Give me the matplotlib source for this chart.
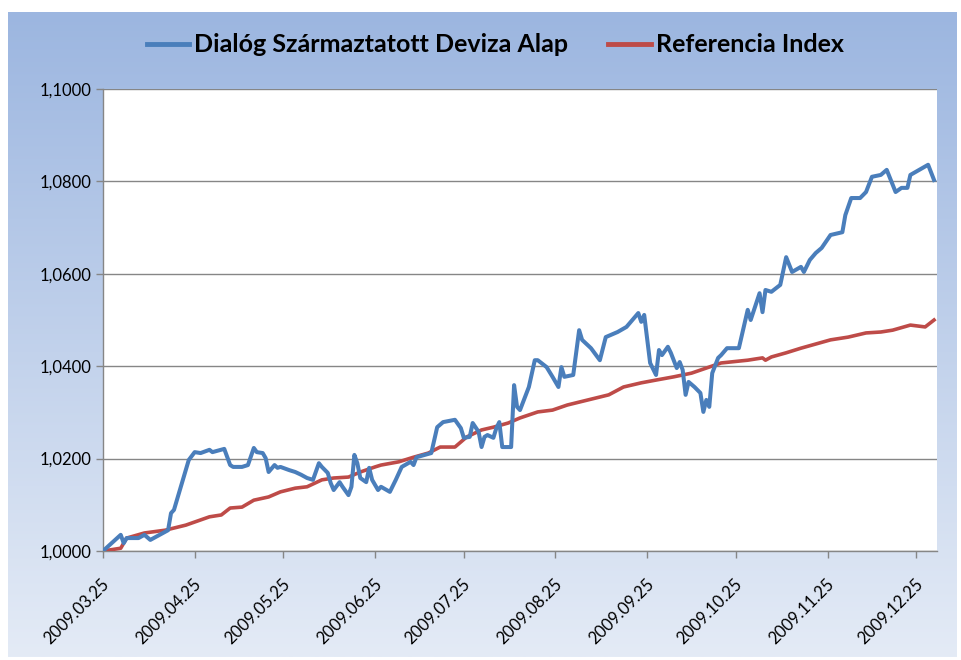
import matplotlib
matplotlib.use("Agg")
import matplotlib.pyplot as plt
import matplotlib.transforms as mtransforms
from matplotlib.ticker import FuncFormatter, MultipleLocator
import numpy as np
import pandas as pd

# ---------------- data ----------------
fund_dates = [
    "2009-03-25", "2009-03-31", "2009-04-01", "2009-04-02", "2009-04-06", "2009-04-08",
    "2009-04-10", "2009-04-16", "2009-04-17", "2009-04-18", "2009-04-23", "2009-04-25",
    "2009-04-27", "2009-04-30", "2009-05-01", "2009-05-05", "2009-05-07", "2009-05-08",
    "2009-05-11", "2009-05-13", "2009-05-15", "2009-05-16", "2009-05-18", "2009-05-19",
    "2009-05-20", "2009-05-22", "2009-05-23", "2009-05-24", "2009-05-27", "2009-05-29",
    "2009-05-31", "2009-06-02", "2009-06-04", "2009-06-06", "2009-06-07", "2009-06-09",
    "2009-06-10", "2009-06-11", "2009-06-13", "2009-06-14", "2009-06-16", "2009-06-17",
    "2009-06-18", "2009-06-19", "2009-06-20", "2009-06-22", "2009-06-23", "2009-06-24",
    "2009-06-26", "2009-06-27", "2009-06-30", "2009-07-02", "2009-07-04", "2009-07-07",
    "2009-07-08", "2009-07-09", "2009-07-14", "2009-07-16", "2009-07-18", "2009-07-22",
    "2009-07-24", "2009-07-25", "2009-07-27", "2009-07-28", "2009-07-30", "2009-07-31",
    "2009-08-01", "2009-08-02", "2009-08-04", "2009-08-05", "2009-08-06", "2009-08-07",
    "2009-08-10", "2009-08-11", "2009-08-12", "2009-08-13", "2009-08-16", "2009-08-18",
    "2009-08-19", "2009-08-22", "2009-08-24", "2009-08-26", "2009-08-27", "2009-08-28",
    "2009-08-31", "2009-09-02", "2009-09-03", "2009-09-06", "2009-09-09", "2009-09-11",
    "2009-09-15", "2009-09-18", "2009-09-22", "2009-09-23", "2009-09-24", "2009-09-26",
    "2009-09-28", "2009-09-29", "2009-09-30", "2009-10-02", "2009-10-03", "2009-10-05",
    "2009-10-06", "2009-10-07", "2009-10-08", "2009-10-09", "2009-10-11", "2009-10-13",
    "2009-10-14", "2009-10-15", "2009-10-16", "2009-10-17", "2009-10-19", "2009-10-20",
    "2009-10-22", "2009-10-26", "2009-10-29", "2009-10-30", "2009-11-02", "2009-11-03",
    "2009-11-04", "2009-11-06", "2009-11-09", "2009-11-11", "2009-11-13", "2009-11-16",
    "2009-11-17", "2009-11-19", "2009-11-21", "2009-11-23", "2009-11-26", "2009-11-30",
    "2009-12-01", "2009-12-03", "2009-12-06", "2009-12-08", "2009-12-10", "2009-12-13",
    "2009-12-15", "2009-12-18", "2009-12-20", "2009-12-22", "2009-12-23", "2009-12-26",
    "2009-12-29", "2009-12-31",
]
fund_values = [
    1.0000, 1.0035, 1.0017, 1.0028, 1.0028, 1.0035,
    1.0024, 1.0045, 1.0082, 1.0089, 1.0197, 1.0214,
    1.0212, 1.0219, 1.0214, 1.0221, 1.0186, 1.0182,
    1.0182, 1.0186, 1.0223, 1.0214, 1.0212, 1.0201,
    1.0171, 1.0186, 1.0180, 1.0182, 1.0175, 1.0171,
    1.0165, 1.0158, 1.0154, 1.0190, 1.0182, 1.0169,
    1.0147, 1.0132, 1.0149, 1.0139, 1.0121, 1.0139,
    1.0208, 1.0190, 1.0158, 1.0149, 1.0180, 1.0154,
    1.0132, 1.0139, 1.0128, 1.0154, 1.0182, 1.0193,
    1.0186, 1.0203, 1.0212, 1.0268, 1.0279, 1.0284,
    1.0266, 1.0245, 1.0247, 1.0277, 1.0258, 1.0225,
    1.0247, 1.0251, 1.0245, 1.0266, 1.0279, 1.0225,
    1.0225, 1.0359, 1.0312, 1.0305, 1.0355, 1.0413,
    1.0413, 1.0398, 1.0377, 1.0355, 1.0398, 1.0377,
    1.0381, 1.0478, 1.0457, 1.0439, 1.0413, 1.0463,
    1.0474, 1.0485, 1.0515, 1.0496, 1.0511, 1.0407,
    1.0381, 1.0435, 1.0424, 1.0442, 1.0429, 1.0396,
    1.0409, 1.0392, 1.0338, 1.0366, 1.0355, 1.0342,
    1.0301, 1.0327, 1.0312, 1.0385, 1.0418, 1.0424,
    1.0439, 1.0439, 1.0522, 1.0500, 1.0558, 1.0517,
    1.0565, 1.0561, 1.0576, 1.0636, 1.0604, 1.0615,
    1.0604, 1.0630, 1.0645, 1.0656, 1.0684, 1.0690,
    1.0727, 1.0764, 1.0764, 1.0777, 1.0810, 1.0814,
    1.0825, 1.0777, 1.0786, 1.0786, 1.0814, 1.0825,
    1.0836, 1.0803,
]

ref_dates = [
    "2009-03-25", "2009-03-31", "2009-04-02", "2009-04-08", "2009-04-15", "2009-04-22",
    "2009-04-30", "2009-05-04", "2009-05-07", "2009-05-11", "2009-05-15", "2009-05-20",
    "2009-05-24", "2009-05-29", "2009-06-02", "2009-06-07", "2009-06-11", "2009-06-16",
    "2009-06-20", "2009-06-25", "2009-06-27", "2009-07-03", "2009-07-08", "2009-07-13",
    "2009-07-17", "2009-07-22", "2009-07-26", "2009-07-31", "2009-08-04", "2009-08-09",
    "2009-08-13", "2009-08-19", "2009-08-24", "2009-08-29", "2009-09-05", "2009-09-12",
    "2009-09-17", "2009-09-23", "2009-09-28", "2009-10-04", "2009-10-10", "2009-10-15",
    "2009-10-20", "2009-10-29", "2009-11-03", "2009-11-04", "2009-11-06", "2009-11-11",
    "2009-11-16", "2009-11-26", "2009-12-02", "2009-12-08", "2009-12-13", "2009-12-17",
    "2009-12-23", "2009-12-28", "2009-12-31",
]
ref_values = [
    1.0000, 1.0006, 1.0028, 1.0039, 1.0045, 1.0056,
    1.0074, 1.0078, 1.0093, 1.0095, 1.0110, 1.0117,
    1.0128, 1.0136, 1.0139, 1.0154, 1.0158, 1.0160,
    1.0171, 1.0182, 1.0186, 1.0193, 1.0203, 1.0212,
    1.0225, 1.0225, 1.0247, 1.0262, 1.0268, 1.0277,
    1.0288, 1.0301, 1.0305, 1.0316, 1.0327, 1.0338,
    1.0355, 1.0364, 1.0370, 1.0377, 1.0385, 1.0396,
    1.0407, 1.0413, 1.0418, 1.0413, 1.0420, 1.0429,
    1.0439, 1.0457, 1.0463, 1.0472, 1.0474, 1.0478,
    1.0489, 1.0485, 1.0500,
]

tick_dates = [
    "2009-03-25", "2009-04-25", "2009-05-25", "2009-06-25", "2009-07-25",
    "2009-08-25", "2009-09-25", "2009-10-25", "2009-11-25", "2009-12-25",
]
tick_labels = [
    "2009.03.25", "2009.04.25", "2009.05.25", "2009.06.25", "2009.07.25",
    "2009.08.25", "2009.09.25", "2009.10.25", "2009.11.25", "2009.12.25",
]
series_names = ["Dialóg Származtatott Deviza Alap", "Referencia Index"]

# ---------------- figure ----------------
plt.rcParams['font.family'] = ['Lato', 'DejaVu Sans']

W, H = 962, 660
fig = plt.figure(figsize=(W / 100, H / 100), dpi=100)
fig.patch.set_facecolor("white")

# gradient background box
bg = fig.add_axes([0, 0, 1, 1], zorder=0)
bg.set_xlim(0, 1)
bg.set_ylim(0, 1)
bg.axis("off")
top_c = np.array([0x9C, 0xB6, 0xE0]) / 255.0
bot_c = np.array([0xE4, 0xEB, 0xF6]) / 255.0
t = np.linspace(0, 1, 256)[:, None]
grad = (top_c[None, :] * (1 - t) + bot_c[None, :] * t)[:, None, :]
bg.imshow(grad, extent=[8 / W, 1 - 5 / W, 3 / H, 1 - 12 / H],
          aspect="auto", origin="upper", zorder=0)

ax = fig.add_axes([103 / W, 1 - 551 / H, (937 - 103) / W, (551 - 89) / H], zorder=1)
ax.set_facecolor("white")

fd = pd.to_datetime(fund_dates)
rd = pd.to_datetime(ref_dates)

ax.plot(rd, ref_values, color="#BE4B48", lw=2.6, solid_joinstyle="round", zorder=3,
        label=series_names[1])
ax.plot(fd, fund_values, color="#4A7EBB", lw=2.9, solid_joinstyle="round", zorder=4,
        label=series_names[0])

ax.set_ylim(1.0, 1.1)
ax.yaxis.set_major_locator(MultipleLocator(0.02))
ax.yaxis.set_major_formatter(FuncFormatter(lambda v, p: f"{v:.4f}".replace(".", ",")))
ax.grid(axis="y", color="#868686", lw=1.0)
ax.set_axisbelow(True)

ax.set_xlim(pd.Timestamp("2009-03-25"), pd.Timestamp("2010-01-01"))
ax.set_xticks(pd.to_datetime(tick_dates))
ax.set_xticklabels(tick_labels, rotation=45, ha="right", va="center",
                   rotation_mode="anchor")

for s in ["top", "right"]:
    ax.spines[s].set_visible(False)
for s in ["left", "bottom"]:
    ax.spines[s].set_color("#868686")
    ax.spines[s].set_linewidth(1.0)

ax.tick_params(axis="both", colors="#868686", length=5, width=1.0, labelcolor="black",
               labelsize=12)
ax.tick_params(axis="x", pad=17)
shift = mtransforms.ScaledTranslation(4 / 100, 0, fig.dpi_scale_trans)
for lab in ax.get_xticklabels():
    lab.set_transform(lab.get_transform() + shift)

handles, labels = ax.get_legend_handles_labels()
order = [1, 0]
leg = fig.legend([handles[i] for i in order], [labels[i] for i in order],
                 loc="center", bbox_to_anchor=(495 / W, 1 - 45 / H), ncol=2,
                 frameon=False, handlelength=1.7, handletextpad=0.2, columnspacing=1.6,
                 prop={"family": ["Lato", "DejaVu Sans"], "weight": "bold", "size": 18})
for line in leg.get_lines():
    line.set_linewidth(3.5)

fig.savefig("out.png", dpi=100, facecolor=fig.get_facecolor())
